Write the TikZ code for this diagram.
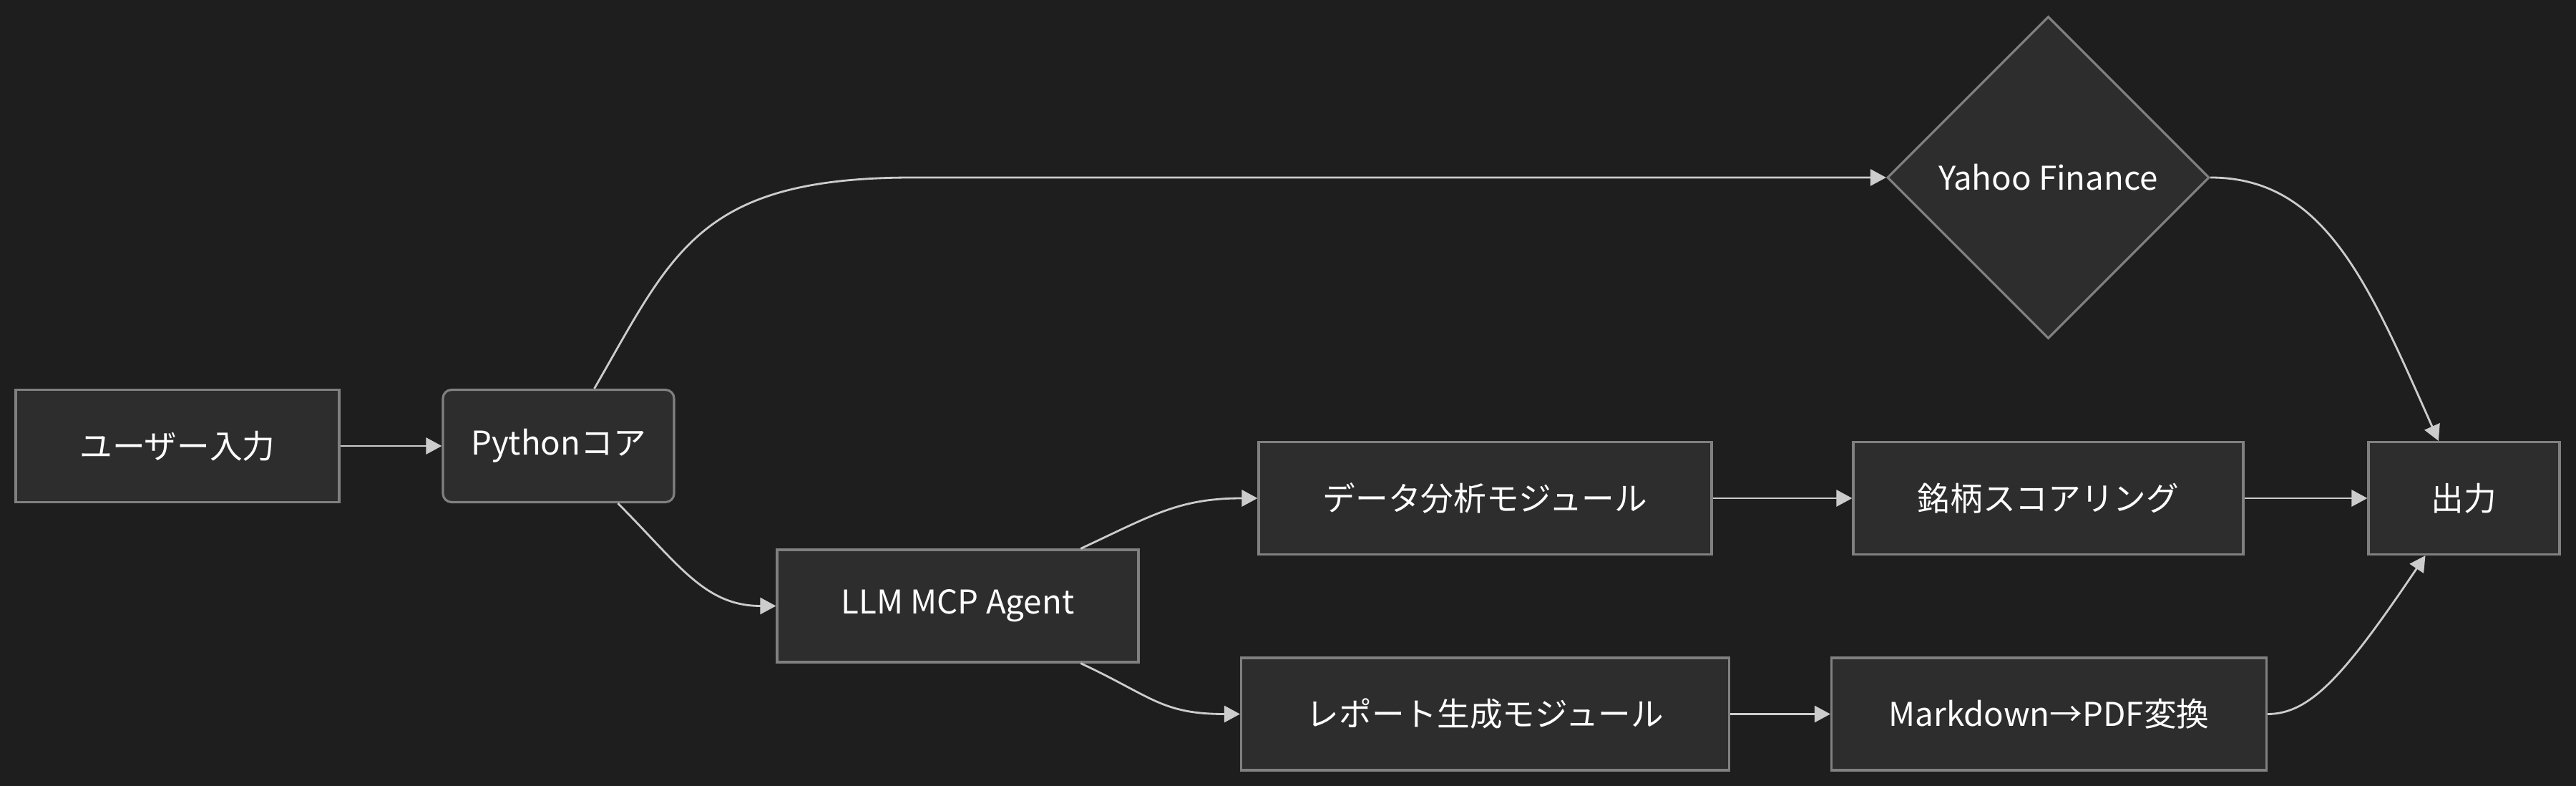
\documentclass[tikz,border=0pt]{standalone}
\usepackage{fontspec}
\setmainfont{Noto Sans CJK JP}
\usetikzlibrary{positioning, shapes.geometric, arrows.meta, calc}
\definecolor{bgcol}{HTML}{1E1E1E}
\definecolor{boxfill}{HTML}{2D2D2D}
\definecolor{boxline}{HTML}{808080}
\definecolor{linecol}{HTML}{CCCCCC}

\begin{document}
\begin{tikzpicture}[minimum height=1.57cm, font=\fontsize{13}{15}\selectfont,
		box/.style={draw=boxline, fill=boxfill, rectangle, text=white, line width=0.9pt},
		flow/.style={draw=linecol, line width=0.8pt, -{Triangle[length=0.22cm, width=0.23cm]}}]
		     \fill[bgcol] (0,0) rectangle (36,-10.98);
		     \useasboundingbox (0,0) rectangle (36,-10.98);

		     \node[box, minimum width=4.52cm] (user) at (2.48,-6.23) {ユーザー入力};
		     \node[box, rounded corners=0.12cm, minimum width=3.23cm, right of=user, node distance=5.325cm] (py) {Pythonコア};
		     \node[box, minimum width=5.05cm] (llm) at (13.385,-8.465) {LLM MCP Agent};
		     \node[box, minimum width=6.33cm] (data) at (20.755,-6.96) {データ分析モジュール};
		     \node[box, minimum width=5.45cm, right of=data, node distance=7.87cm] (score) {銘柄スコアリング};
		     \node[box, minimum width=2.67cm, right of=score, node distance=5.81cm] (out) {出力};
		     \node[box, diamond, minimum width=4.5cm, minimum height=4.5cm, above of=score, node distance=4.48cm] (yahoo) {Yahoo Finance};
		     \node[box, minimum width=6.82cm, below of=data, node distance=3.015cm] (report) {レポート生成モジュール};
		     \node[box, minimum width=6.08cm, right of=report, node distance=7.88cm] (md) {Markdown→PDF変換};

		     \draw[flow] (user) -- (py);
		     \draw[flow] (py.58) .. controls +(60:2.2) and +(-3,0) .. ($(yahoo.west)+(-13.6,0)$) -- (yahoo.west);
		     \draw[flow] (py.-44) .. controls +(-45:1.2) and +(-1,0) .. (llm.west);
		     \draw[flow] (llm.25) .. controls +(25:1.1) and +(-1.1,0) .. (data.west);
		     \draw[flow] (llm.-25) .. controls +(-25:1.1) and +(-1.1,0) .. (report.west);
		     \draw[flow] (data) -- (score);
		     \draw[flow] (score) -- (out);
		     \draw[flow] (report) -- (md);
		     \draw[flow] (yahoo.east) .. controls +(1.6,0) and +(114:2.4) .. (out.114);
		     \draw[flow] (md.east) .. controls +(0.6,0) and +(-124:2.0) .. (out.-124);
	     \end{tikzpicture}
\end{document}
